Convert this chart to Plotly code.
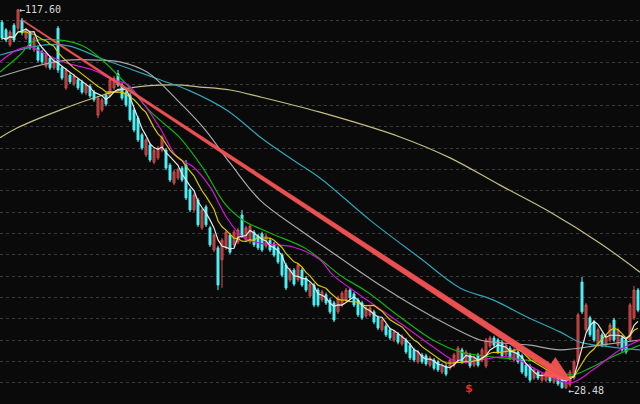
import plotly.graph_objects as go
import pandas as pd

# ---------------- data ----------------
opens = [114.5,112.7,109.2,113.8,113.1,115.0,110.8,112.0,108.0,108.5,107.5,104.2,106.1,103.8,113.1,103.8,99.1,102.1,100.0,101.0,
         100.5,97.9,99.5,98.1,92.7,93.9,97.4,97.2,99.1,102.4,99.8,98.1,97.4,93.9,92.0,88.1,83.4,85.7,81.7,82.7,
         84.5,84.5,81.0,76.8,78.0,80.3,81.0,75.2,70.5,72.8,66.3,71.2,66.3,61.1,61.6,58.8,61.6,64.6,62.3,63.0,
         69.3,63.4,63.0,65.3,64.4,64.9,62.0,63.4,62.5,61.6,59.9,57.6,54.1,56.4,54.1,56.4,54.5,50.3,52.9,51.7,
         49.4,50.6,49.4,48.7,46.6,48.2,49.4,51.7,50.8,49.4,48.7,45.6,45.9,46.6,45.2,42.4,43.3,42.4,40.0,41.4,
         39.1,40.0,38.8,37.7,34.9,36.5,36.3,34.1,35.3,34.9,32.5,33.9,33.4,34.1,35.3,37.7,34.9,36.5,34.1,36.5,
         35.3,33.9,38.6,40.5,40.0,39.5,36.5,38.1,35.3,37.2,36.3,34.1,33.9,31.1,32.5,30.6,30.6,31.8,30.2,31.6,
         31.1,28.8,29.5,31.1,34.9,53.6,42.4,45.2,44.2,38.8,41.2,38.8,40.0,44.7,38.8,40.5,40.0,40.0,45.2,51.7]
highs = [115.0,113.1,112.7,114.3,117.6,115.5,113.2,112.5,111.3,109.0,108.0,107.3,106.6,106.1,113.6,104.3,103.8,102.6,102.4,101.5,
         101.0,100.3,100.0,98.6,97.2,96.8,97.9,101.5,101.9,103.3,100.3,98.6,97.9,94.4,92.5,88.6,87.4,86.2,85.0,85.5,
         88.1,85.0,81.5,79.9,80.4,80.8,82.2,75.7,74.5,73.3,71.0,71.7,66.8,65.1,62.1,63.9,65.8,65.1,65.8,66.3,
         70.5,66.8,67.2,65.8,64.9,65.4,64.9,63.9,63.0,62.1,60.4,58.1,56.9,56.9,58.1,56.9,55.0,53.6,53.4,52.2,
         51.8,51.1,49.9,49.2,50.4,51.5,52.2,52.2,51.3,49.9,49.2,48.0,48.0,47.1,45.7,45.2,43.8,42.9,42.4,41.9,
         41.4,40.5,39.3,38.2,37.7,37.0,36.8,36.3,35.8,35.4,34.6,34.4,35.8,37.0,38.6,38.2,37.7,37.0,36.5,37.0,
         38.2,40.5,41.0,41.0,40.5,40.0,39.3,38.6,38.2,37.7,36.8,34.6,34.4,33.5,33.0,32.5,33.0,32.3,32.5,32.1,
         31.6,31.6,33.0,35.4,46.4,54.8,48.7,45.7,44.7,42.9,41.7,41.4,44.0,45.2,42.9,41.0,40.5,48.7,52.7,52.2]
lows = [110.3,109.8,108.7,109.8,112.5,111.4,110.3,108.0,107.5,105.1,104.7,103.7,103.3,103.3,102.6,100.9,98.6,100.0,99.5,98.6,
        97.6,97.4,96.7,95.8,92.0,93.4,94.8,96.7,98.6,99.3,96.2,94.6,91.1,88.7,86.4,84.5,82.9,81.7,81.2,82.2,
        84.0,79.8,77.0,76.3,77.5,77.0,72.8,70.0,70.0,66.5,65.8,66.5,61.8,60.6,51.7,52.2,61.1,60.1,61.8,62.5,
        63.9,62.9,62.5,61.8,61.1,60.6,61.5,60.6,59.4,57.8,54.7,51.7,53.6,52.6,53.6,52.4,51.2,49.8,47.7,47.7,
        48.9,48.2,46.1,44.2,46.1,47.7,48.9,49.4,47.7,45.4,44.7,45.1,45.4,43.7,42.3,41.9,40.7,40.0,39.5,39.0,
        38.6,36.7,35.3,34.8,34.4,34.4,33.9,33.6,32.9,32.5,32.0,31.5,32.9,33.6,34.8,34.4,34.4,33.4,33.6,33.6,
        34.8,33.4,38.1,38.3,36.7,35.8,36.0,35.3,34.8,34.4,32.0,31.1,30.1,30.6,30.6,30.1,30.1,29.9,29.7,29.2,
        28.6,28.48,29.0,30.6,34.4,46.1,41.9,40.7,39.5,38.3,38.3,38.3,39.5,39.5,38.3,37.2,36.7,39.5,44.7,46.5]
closes = [110.8,110.3,112.2,110.3,117.4,112.0,112.7,108.5,110.8,105.6,105.2,106.8,103.8,105.6,103.3,101.4,103.3,100.5,101.9,99.1,
          98.1,99.8,97.2,96.3,96.7,96.3,95.3,101.0,101.4,99.8,96.7,95.1,91.6,89.2,86.9,85.0,86.9,82.2,84.5,85.0,
          87.6,80.3,77.5,79.4,79.9,77.5,73.3,70.5,74.0,67.0,70.5,67.0,62.3,64.6,52.9,63.4,65.3,60.6,65.3,65.8,
          64.4,66.3,66.7,62.3,61.6,61.1,64.4,61.1,59.9,58.3,55.2,52.2,56.4,53.1,57.6,52.9,51.7,53.1,48.2,48.2,
          51.3,48.7,46.6,44.7,49.9,51.0,51.7,49.9,48.2,45.9,45.2,47.5,47.5,44.2,42.8,44.7,41.2,40.5,41.9,39.5,
          40.9,37.2,35.8,35.3,37.2,34.9,34.4,35.8,33.4,33.0,34.1,32.0,35.3,36.5,38.1,34.9,37.2,33.9,36.0,34.1,
          37.7,40.0,40.5,38.8,37.2,36.3,38.8,35.8,37.7,34.9,32.5,31.6,30.6,33.0,31.1,32.0,32.5,30.4,32.0,29.7,
          28.8,31.1,32.5,34.9,45.9,46.6,48.2,41.2,40.0,42.4,38.8,40.9,43.5,40.0,42.4,37.7,37.2,48.2,51.7,47.0]

ma20_x = [-0.5,3.75,7,10.25,16.25,22.75,27.75,31.25,35.25,39.5,43.75,47.75,52,56.25,60.25,64.5,72.75,79.5,82.75,91.25,99.5,107.75,114,119.5,127,135.25,142,147.75,154.5,159.5]
ma20_y = [105.2,108.0,108.7,107.3,104.9,103.3,101.0,100.0,95.6,89.7,82.9,80.6,75.9,68.6,64.1,62.7,61.8,58.8,55.2,49.4,44.0,38.4,34.8,35.3,36.0,32.3,29.9,33.0,37.7,40.0]
ma30_x = [-0.5,4.5,7.75,14.5,20.25,24.5,31.25,37.25,44.5,50.25,55.75,60.25,67,75.25,79.5,84.5,91.25,99.5,107.75,114.5,122.75,131.25,135.25,142,147,152,159.5]
ma30_y = [102.8,106.8,109.9,110.3,108.9,106.1,99.8,93.4,87.4,80.3,71.9,68.1,65.1,61.8,59.0,55.2,51.3,45.4,40.0,37.2,36.0,35.3,34.6,31.8,33.4,35.8,38.8]
ma60_x = [-0.5,7.75,16.25,24.5,29.5,36.25,43.75,50.25,57,64.5,74.5,82.75,95.25,107.75,119.5,122.75,132,139.5,149.5,159.5]
ma60_y = [101.7,104.0,105.6,105.6,105.2,102.8,96.3,89.9,81.5,72.8,65.8,60.4,52.4,45.4,40.0,39.5,38.8,37.7,38.8,40.0]
ma120_x = [-0.5,4.5,10.75,17,24.5,32.75,39.5,47,56.5,64.5,72.75,79.5,92,104.5,114.5,122.75,131.25,139.5,144.5,152,159.5]
ma120_y = [106.8,108.0,109.2,108.9,106.1,103.3,101.0,98.4,93.7,87.6,82.2,78.0,68.1,59.2,52.2,49.4,45.4,41.9,39.5,38.4,37.7]
ma250_x = [-0.5,3.75,14.5,24.5,32,43.25,49.5,57,64.5,79.5,99.5,112,124.5,137,149.5,159.5]
ma250_y = [87.4,89.7,93.9,97.2,99.1,99.8,99.3,98.6,97.0,93.4,87.6,82.7,76.3,70.0,62.7,55.9]

high_label = "←117.60"
low_label = "←28.48"
high_bar, high_price = 4, 117.60
low_bar, low_price = 141, 28.48
arrow_from = (5, 115.0)
arrow_to = (142.25, 30.4)
grid_levels = list(range(30, 120, 5))

# ---------------- figure ----------------
W, H = 640, 404
XR = [-0.5, 159.5]
YR = [25.0, 119.7]
bars = list(range(len(closes)))

BG = "#0a0a0a"
fig = go.Figure()

def ma_line(x, y, color, shape="spline", width=1.2):
    fig.add_trace(go.Scatter(x=x, y=y, mode="lines", hoverinfo="skip",
                             line=dict(color=color, width=width, shape=shape)))

ma_line(ma250_x, ma250_y, "#c4c080")
ma_line(ma120_x, ma120_y, "#2ea6b8")
ma_line(ma60_x, ma60_y, "#a8a8a8")

fig.add_trace(go.Candlestick(
    x=bars, open=opens, high=highs, low=lows, close=closes,
    increasing=dict(line=dict(color="#d84c4c", width=1), fillcolor="#963636"),
    decreasing=dict(line=dict(color="#4ef2f6", width=1), fillcolor="#4ef2f6"),
    whiskerwidth=0, hoverinfo="skip"))

ma_line(ma30_x, ma30_y, "#10b410")
ma_line(ma20_x, ma20_y, "#d414d4")
cs = pd.Series(closes)
ma10 = cs.rolling(10, min_periods=1).mean().round(2).tolist()
ma5 = cs.rolling(5, min_periods=1).mean().round(2).tolist()
ma_line(bars, ma10, "#d8c800", "linear")
ma_line(bars, ma5, "#e8e8e8", "linear")

# tapered trend arrow, built in pixel space and mapped back to data units
def to_px(x, y):
    return ((x - XR[0]) / (XR[1] - XR[0]) * W, (YR[1] - y) / (YR[1] - YR[0]) * H)

def to_data(px, py):
    return (XR[0] + px / W * (XR[1] - XR[0]), YR[1] - py / H * (YR[1] - YR[0]))

sx, sy = to_px(*arrow_from)
tx, ty = to_px(*arrow_to)
dx, dy = tx - sx, ty - sy
L = (dx * dx + dy * dy) ** 0.5
ux, uy = dx / L, dy / L
nx, ny = -uy, ux
head_len, head_half, w0, w1 = 26, 11, 0.6, 3.2
bx, by = tx - ux * head_len, ty - uy * head_len
poly = [(sx + nx * w0, sy + ny * w0), (bx + nx * w1, by + ny * w1),
        (bx + nx * head_half, by + ny * head_half), (tx, ty),
        (bx - nx * head_half, by - ny * head_half), (bx - nx * w1, by - ny * w1),
        (sx - nx * w0, sy - ny * w0)]
pts = [to_data(px, py) for px, py in poly]
fig.add_trace(go.Scatter(x=[p[0] for p in pts] + [pts[0][0]], y=[p[1] for p in pts] + [pts[0][1]],
                         mode="lines", fill="toself", fillcolor="rgba(248,84,84,0.95)",
                         line=dict(color="rgba(248,84,84,0.95)", width=0.5), hoverinfo="skip"))

fig.add_annotation(x=high_bar, y=high_price, text=high_label, showarrow=False, xanchor="left", yanchor="middle",
                   xshift=-1, yshift=-1, font=dict(family="DejaVu Sans Mono", size=10, color="#d8d8d8"))
fig.add_annotation(x=low_bar, y=low_price, text=low_label, showarrow=False, xanchor="left", yanchor="middle",
                   xshift=0, yshift=-1, font=dict(family="DejaVu Sans Mono", size=10, color="#d8d8d8"))
fig.add_annotation(x=116.75, y=28.6, text="<b>$</b>", showarrow=False, xanchor="center", yanchor="middle",
                   font=dict(family="DejaVu Sans", size=11, color="#e82828"))

fig.update_layout(
    width=W, height=H, margin=dict(l=0, r=0, t=0, b=0),
    paper_bgcolor=BG, plot_bgcolor=BG, showlegend=False,
    xaxis=dict(range=XR, showgrid=False, zeroline=False, showticklabels=False,
               rangeslider=dict(visible=False), fixedrange=True),
    yaxis=dict(range=YR, tickvals=grid_levels, showticklabels=False, zeroline=False,
               showgrid=True, gridcolor="#3a3a3a", griddash="dot", gridwidth=1, fixedrange=True),
)

fig.write_html("out.html", config={"displayModeBar": False},
               post_script="document.body.style.margin='0';document.body.style.background='#0a0a0a';")
